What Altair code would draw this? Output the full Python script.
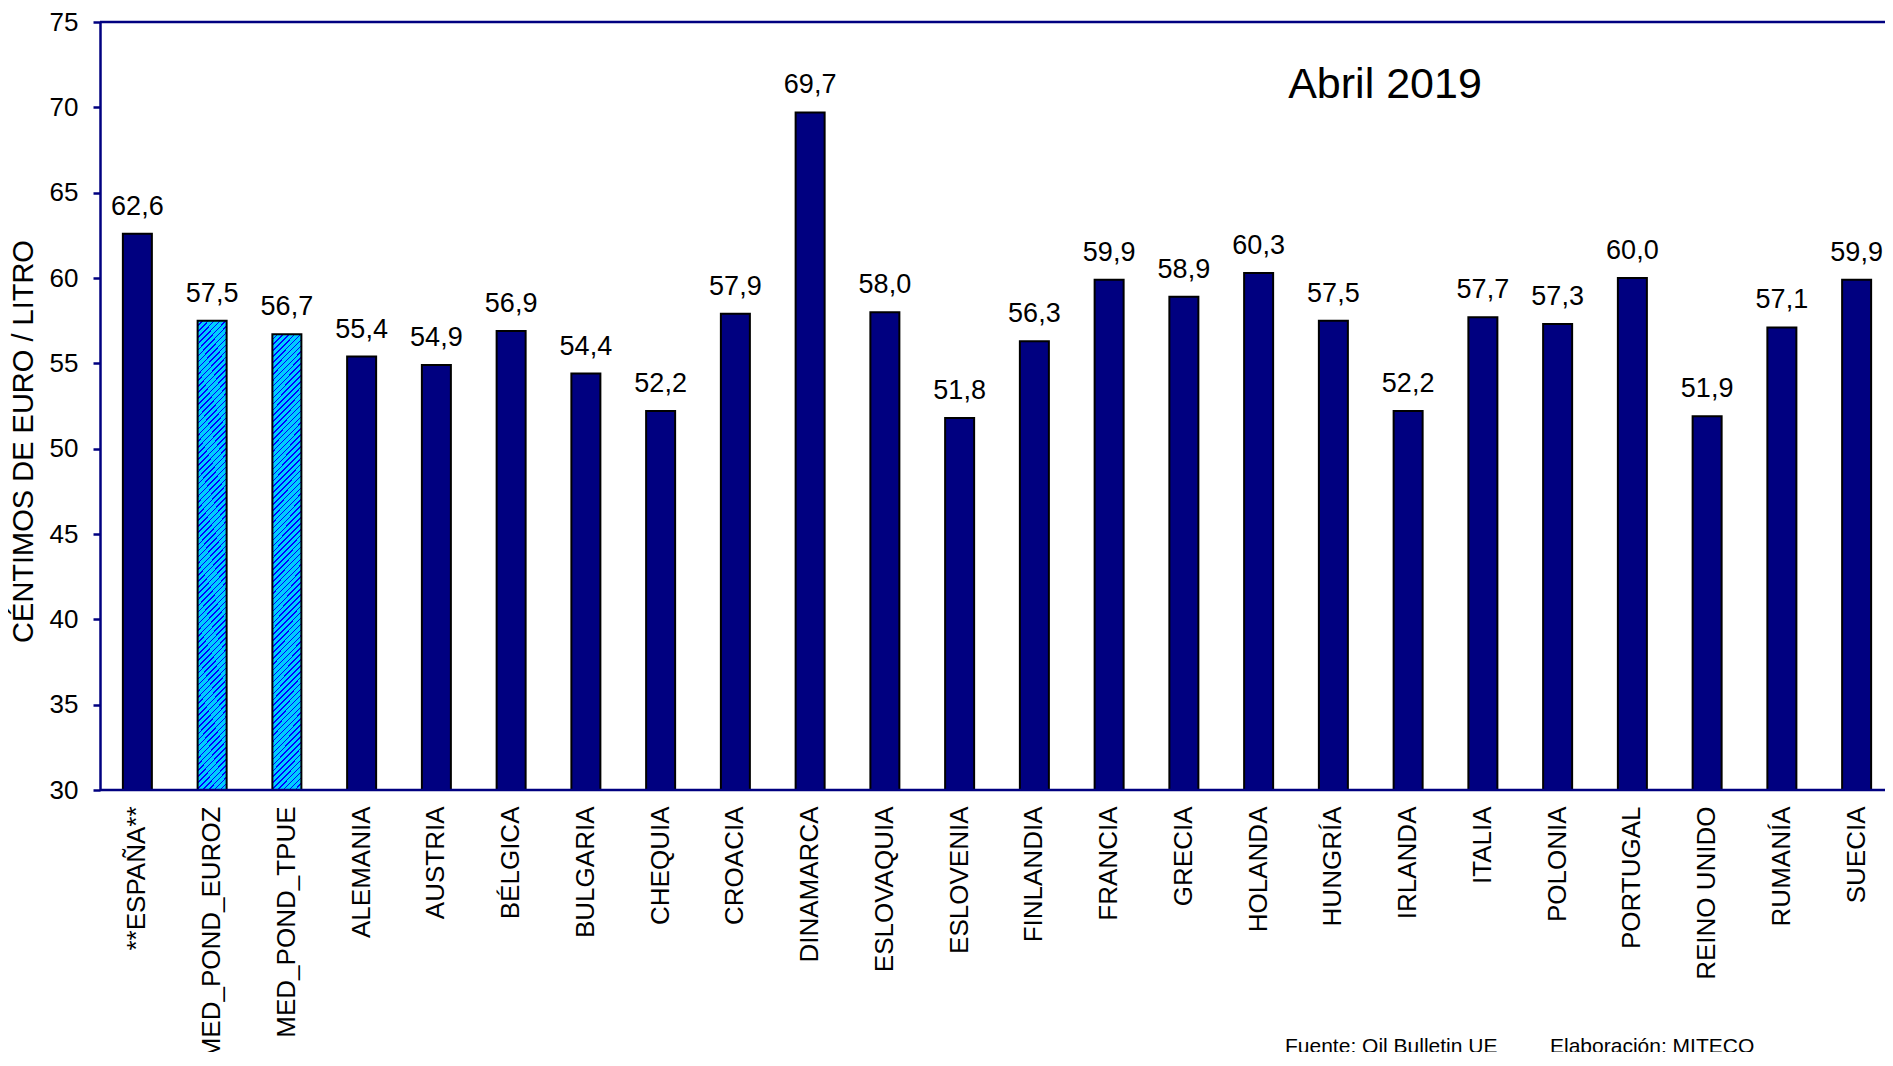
import altair as alt
import pandas as pd

paises = ["**ESPAÑA**", "MED_POND_EUROZ", "MED_POND_TPUE", "ALEMANIA", "AUSTRIA",
          "BÉLGICA", "BULGARIA", "CHEQUIA", "CROACIA", "DINAMARCA", "ESLOVAQUIA",
          "ESLOVENIA", "FINLANDIA", "FRANCIA", "GRECIA", "HOLANDA", "HUNGRÍA",
          "IRLANDA", "ITALIA", "POLONIA", "PORTUGAL", "REINO UNIDO", "RUMANÍA", "SUECIA"]
valores = [62.6, 57.5, 56.7, 55.4, 54.9, 56.9, 54.4, 52.2, 57.9, 69.7, 58.0,
           51.8, 56.3, 59.9, 58.9, 60.3, 57.5, 52.2, 57.7, 57.3, 60.0, 51.9, 57.1, 59.9]
tipos = ["pais", "media", "media"] + ["pais"] * 21
titulo = "Abril 2019"
fuente = "Fuente: Oil Bulletin UE"
elaboracion = "Elaboración: MITECO"
y_titulo = "CÉNTIMOS DE EURO / LITRO"

df = pd.DataFrame({
    "pais": paises,
    "valor": valores,
    "tipo": tipos,
    "etiqueta": [f"{v:.1f}".replace(".", ",") for v in valores],
})

W, H = 1785, 768
XR = 1794  # x range in pixels (plot continues past the right edge, as in the original)
NAVY = "#000080"
FONT = "Liberation Sans"

# diagonal hatch via a linear gradient with hard stops
bw, bh = 30.0, 462.0
gx2 = bw * (bw + bh) / (bw ** 2 + bh ** 2)
gy2 = bh * (bw + bh) / (bw ** 2 + bh ** 2)
n_stripes = int((bw + bh) / 6)
stops = []
for k in range(n_stripes):
    a = k / n_stripes
    b = (k + 0.74) / n_stripes
    c = (k + 1) / n_stripes
    stops += [{"offset": a, "color": "#00CCFF"}, {"offset": b, "color": "#00CCFF"},
              {"offset": b, "color": "#0000FF"}, {"offset": c, "color": "#0000FF"}]
hatch = {"gradient": "linear", "x1": 0, "y1": 0, "x2": gx2, "y2": gy2, "stops": stops}

x_enc = alt.X("pais:N", sort=paises, title=None,
              scale=alt.Scale(paddingInner=0, paddingOuter=0, range=[0, XR]),
              axis=alt.Axis(labelAngle=270, ticks=False, labelPadding=16,
                            labelFontSize=26, labelFont=FONT, labelColor="black",
                            domain=False, labelLimit=400))
y_enc = alt.Y("valor:Q", title=y_titulo,
              scale=alt.Scale(domain=[30, 75], nice=False, zero=False),
              axis=alt.Axis(values=list(range(30, 80, 5)), grid=False,
                            tickSize=7, tickColor=NAVY, tickWidth=2.5,
                            domainColor=NAVY, domainWidth=2.5,
                            labelFontSize=26, labelFont=FONT, labelColor="black",
                            labelPadding=15,
                            titleFontSize=29, titleFont=FONT, titleFontWeight="normal",
                            titleColor="black", titleAngle=270, titleX=-77, titleY=419,
                            titleAlign="center", titleBaseline="middle"))

base = alt.Chart(df).encode(x=x_enc)

dark = base.mark_bar(size=29, fill=NAVY, stroke="black", strokeWidth=2).encode(
    y=y_enc, y2=alt.datum(30)).transform_filter(alt.datum.tipo == "pais")
hatched = base.mark_bar(size=29, fill=hatch, stroke="black", strokeWidth=2).encode(
    y=y_enc, y2=alt.datum(30)).transform_filter(alt.datum.tipo == "media")
labels = base.mark_text(dy=-19, baseline="alphabetic", fontSize=27, font=FONT,
                        color="black").encode(y=alt.Y("valor:Q"), text="etiqueta:N")

one = pd.DataFrame({"a": [0]})
top_line = alt.Chart(one).mark_rule(color=NAVY, strokeWidth=2.5).encode(
    x=alt.value(0), x2=alt.value(XR), y=alt.value(0))
bottom_line = alt.Chart(one).mark_rule(color=NAVY, strokeWidth=2.5).encode(
    x=alt.value(0), x2=alt.value(XR), y=alt.value(H))
title_txt = alt.Chart(one).mark_text(fontSize=43, font=FONT, color="black",
                                     align="center", baseline="alphabetic").encode(
    x=alt.value(1285), y=alt.value(76), text=alt.value(titulo))
src1 = alt.Chart(one).mark_text(fontSize=21, font=FONT, color="black",
                                align="left", baseline="alphabetic").encode(
    x=alt.value(1185), y=alt.value(1031), text=alt.value(fuente))
src2 = alt.Chart(one).mark_text(fontSize=21, font=FONT, color="black",
                                align="left", baseline="alphabetic").encode(
    x=alt.value(1450), y=alt.value(1031), text=alt.value(elaboracion))

chart = alt.layer(dark, hatched, labels, top_line, bottom_line, title_txt, src1, src2).properties(
    width=W, height=H, autosize=alt.AutoSizeParams(type="none"),
    padding={"left": 92, "top": 14, "right": 0, "bottom": 262},
    background="white",
).configure_view(stroke=None)

chart.save("out.html", embed_options={"renderer": "svg", "actions": False})
